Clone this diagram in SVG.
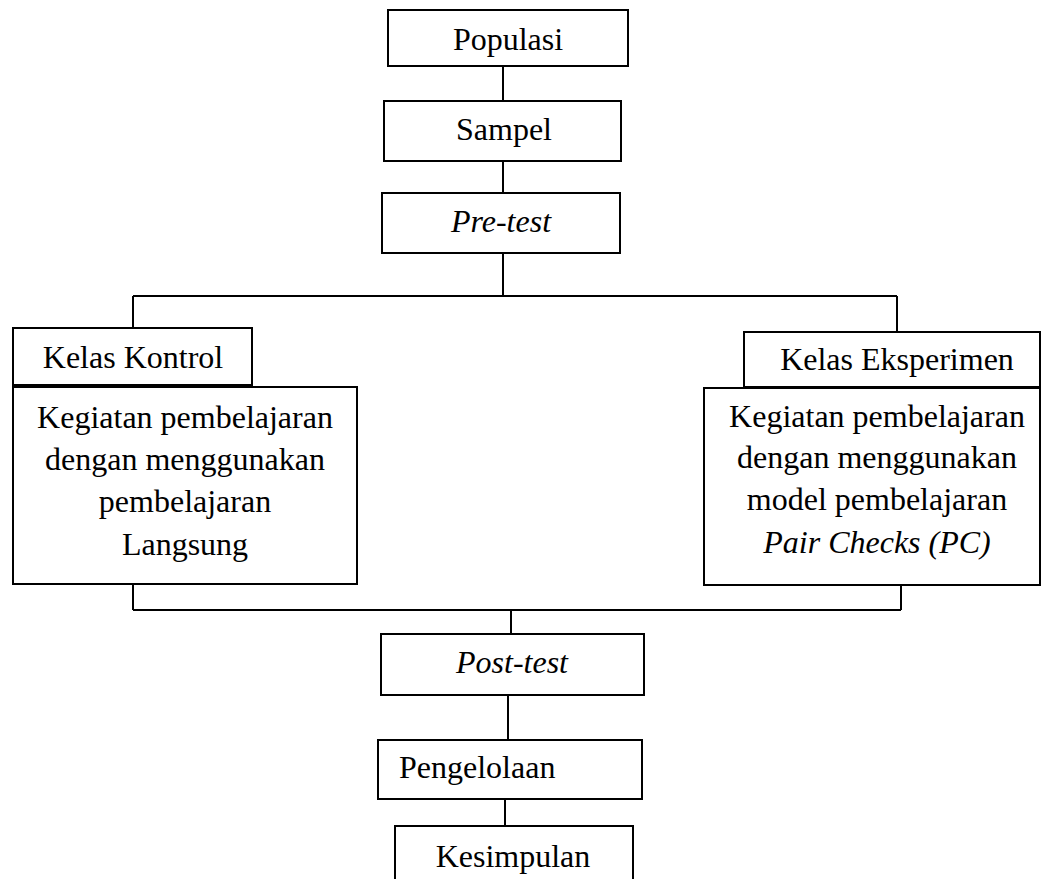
<svg xmlns="http://www.w3.org/2000/svg" width="1042" height="879" viewBox="0 0 1042 879">
<style>
rect{fill:#fff;stroke:#000;stroke-width:2}
.c line{stroke:#000;stroke-width:2}
text{font-family:"Liberation Serif","Times New Roman",serif;font-size:32px;fill:#000;text-anchor:middle}
.i{font-style:italic}
</style>
<rect x="0" y="0" width="1042" height="879" style="stroke:none"/>
<g class="c" id="connectors">
<line x1="503" y1="66" x2="503" y2="101"/>
<line x1="503" y1="161" x2="503" y2="193"/>
<line x1="503" y1="253" x2="503" y2="296"/>
<line x1="133" y1="296" x2="897" y2="296"/>
<line x1="133" y1="296" x2="133" y2="328"/>
<line x1="897" y1="296" x2="897" y2="332"/>
<line x1="133" y1="582" x2="133" y2="610"/>
<line x1="901" y1="585" x2="901" y2="610"/>
<line x1="133" y1="610" x2="901" y2="610"/>
<line x1="511" y1="610" x2="511" y2="634"/>
<line x1="508" y1="695" x2="508" y2="740"/>
<line x1="505" y1="799" x2="505" y2="826"/>
</g>
<g id="populasi"><rect x="388" y="10" width="240" height="56"/><text x="508" y="50">Populasi</text></g>
<g id="sampel"><rect x="384" y="101" width="237" height="60"/><text x="504" y="140">Sampel</text></g>
<g id="pretest"><rect x="382" y="193" width="238" height="60"/><text x="501" y="232" class="i">Pre-test</text></g>
<g id="kelas-kontrol"><rect x="13" y="328" width="239" height="57"/><text x="133" y="368">Kelas Kontrol</text></g>
<g id="kegiatan-kontrol"><rect x="13" y="387" width="344" height="197"/>
<text x="185" y="428">Kegiatan pembelajaran</text>
<text x="185" y="470">dengan menggunakan</text>
<text x="185" y="512">pembelajaran</text>
<text x="185" y="555">Langsung</text></g>
<g id="kelas-eksperimen"><rect x="744" y="332" width="296" height="55"/><text x="897" y="370">Kelas Eksperimen</text></g>
<g id="kegiatan-eksperimen"><rect x="704" y="388" width="336" height="197"/>
<text x="877" y="427">Kegiatan pembelajaran</text>
<text x="877" y="468">dengan menggunakan</text>
<text x="877" y="510">model pembelajaran</text>
<text x="877" y="553" class="i">Pair Checks (PC)</text></g>
<g id="posttest"><rect x="381" y="634" width="263" height="61"/><text x="512" y="673" class="i">Post-test</text></g>
<g id="pengelolaan"><rect x="378" y="740" width="264" height="59"/><text x="399" y="778" style="text-anchor:start">Pengelolaan</text></g>
<g id="kesimpulan"><rect x="395" y="826" width="238" height="70"/><text x="513" y="867">Kesimpulan</text></g>
</svg>
